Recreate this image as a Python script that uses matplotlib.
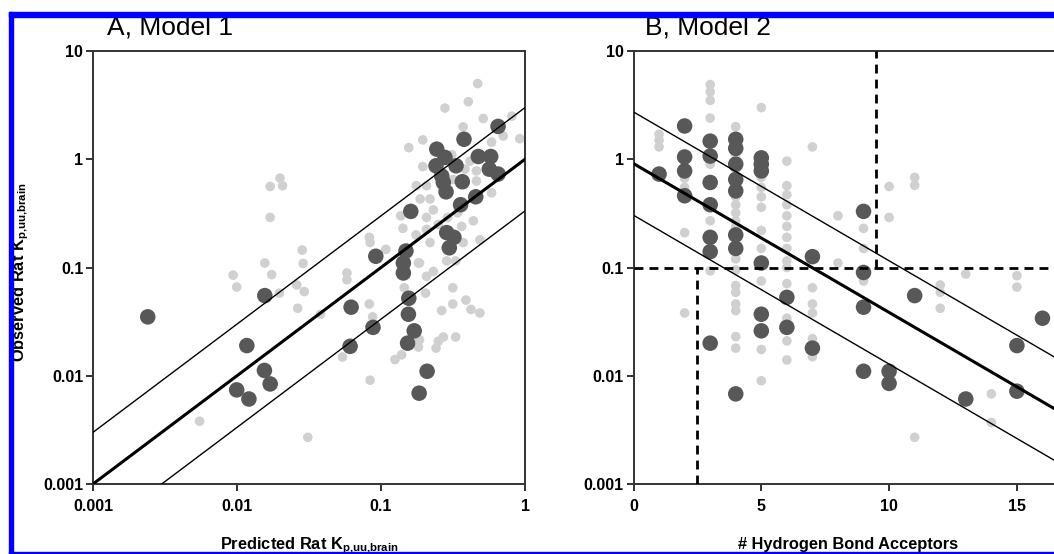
import numpy as np
import matplotlib
matplotlib.use("Agg")
import matplotlib.pyplot as plt
from matplotlib.patches import Rectangle

plt.rcParams['font.family'] = ['Liberation Sans', 'DejaVu Sans']
plt.rcParams['font.weight'] = 'bold'
plt.rcParams['mathtext.fontset'] = 'custom'
plt.rcParams['mathtext.rm'] = 'Liberation Sans:bold'
plt.rcParams['mathtext.it'] = 'Liberation Sans:bold'
plt.rcParams['mathtext.bf'] = 'Liberation Sans:bold'

# ---- Panel A: predicted vs observed Kp,uu,brain (Model 1) ----
pred_dark = [0.65, 0.377, 0.244, 0.278, 0.241, 0.332, 0.474, 0.578, 0.565, 0.65,
             0.264, 0.271, 0.283, 0.367, 0.455, 0.357, 0.161, 0.286, 0.321, 0.298,
             0.092, 0.149, 0.143, 0.143, 0.062, 0.156, 0.155, 0.088, 0.170, 0.153,
             0.061, 0.209, 0.184, 0.0024, 0.0156, 0.0117, 0.0155, 0.0170, 0.00995, 0.0121]
obs_dark = [2.01, 1.53, 1.24, 1.04, 0.87, 0.87, 1.06, 1.06, 0.81, 0.73,
            0.70, 0.61, 0.50, 0.62, 0.45, 0.38, 0.33, 0.21, 0.19, 0.152,
            0.127, 0.142, 0.11, 0.089, 0.043, 0.052, 0.037, 0.028, 0.026, 0.020,
            0.0187, 0.011, 0.0069, 0.035, 0.055, 0.019, 0.0112, 0.0084, 0.0074, 0.0061]

pred_light = [0.0199, 0.0170, 0.0207, 0.0170, 0.0284, 0.0288, 0.0156, 0.0174, 0.0094, 0.00995,
              0.026, 0.0293, 0.0197, 0.0264, 0.038, 0.0055, 0.031,
              0.058, 0.058, 0.083, 0.0875, 0.054, 0.125, 0.139, 0.084, 0.185,
              0.207, 0.231, 0.204, 0.315, 0.389, 0.315, 0.264, 0.422, 0.486, 0.33,
              0.271, 0.25, 0.241, 0.185, 0.182, 0.145, 0.286, 0.33,
              0.469, 0.404, 0.278, 0.513, 0.372, 0.706, 0.586, 0.195, 0.156, 0.195,
              0.415, 0.383, 0.46, 0.46, 0.318, 0.207, 0.219, 0.231, 0.207, 0.137,
              0.142, 0.175, 0.207, 0.25, 0.363, 0.438, 0.586, 0.486, 0.372, 0.084,
              0.108, 0.182, 0.219, 0.187, 0.81, 0.92, 0.29, 0.34, 0.176, 0.31, 0.083]
obs_light = [0.67, 0.56, 0.57, 0.29, 0.145, 0.109, 0.11, 0.086, 0.085, 0.066,
             0.069, 0.060, 0.058, 0.042, 0.037, 0.0038, 0.0027,
             0.089, 0.077, 0.046, 0.035, 0.0149, 0.0141, 0.0156, 0.0091, 0.11,
             0.083, 0.092, 0.058, 0.065, 0.050, 0.046, 0.040, 0.041, 0.038, 0.0228,
             0.0228, 0.0208, 0.018, 0.0215, 0.0184, 0.065, 0.115, 0.115,
             5.0, 3.4, 2.97, 2.38, 1.99, 1.64, 1.44, 1.51, 1.28, 0.855,
             0.96, 0.81, 0.78, 0.63, 0.65, 0.57, 0.43, 0.34, 0.29, 0.30,
             0.23, 0.20, 0.225, 0.25, 0.24, 0.27, 0.49, 0.18, 0.17, 0.17,
             0.147, 0.11, 0.17, 0.43, 2.5, 1.55, 0.29, 0.32, 0.57, 1.1, 0.19]

fold = 3.0  # lines at unity and 3-fold

# ---- Panel B: HBA vs observed Kp,uu,brain (Model 2) ----
hba_dark = [1, 2, 2, 2, 2, 3, 3, 3, 3, 3, 3, 3, 4, 4, 4, 4, 4, 4, 4, 4,
            5, 5, 5, 5, 5, 5, 6, 6, 7, 7, 9, 9, 9, 9, 10, 10, 11, 13, 15, 15, 16]
kpuu_dark = [0.73, 2.03, 1.05, 0.78, 0.46, 1.47, 1.07, 0.61, 0.38, 0.19, 0.14, 0.020,
             1.53, 1.26, 0.90, 0.65, 0.51, 0.20, 0.15, 0.0068,
             1.03, 0.90, 0.78, 0.11, 0.037, 0.026, 0.053, 0.028, 0.126, 0.018,
             0.33, 0.09, 0.043, 0.011, 0.011, 0.0085, 0.055, 0.0061, 0.019, 0.0072, 0.034]

hba_light = [1, 1, 1,
             2, 2, 2, 2, 2,
             3, 3, 3, 3, 3, 3, 3,
             4, 4, 4, 4, 4, 4, 4, 4, 4, 4, 4, 4, 4, 4, 4, 4, 4,
             5, 5, 5, 5, 5, 5, 5, 5, 5, 5, 5, 5,
             6, 6, 6, 6, 6, 6, 6, 6, 6, 6, 6, 6, 6, 6,
             7, 7, 7, 7, 7, 7,
             8, 8, 9, 9, 9, 10, 10, 11, 11, 11, 12, 12, 12, 13, 14, 14, 15, 15]
kpuu_light = [1.7, 1.5, 1.3,
              0.67, 0.55, 0.48, 0.21, 0.038,
              4.9, 4.2, 3.5, 2.4, 0.9, 0.27, 0.093,
              2.0, 1.1, 0.8, 0.55, 0.45, 0.38, 0.32, 0.27, 0.24, 0.12, 0.095,
              0.068, 0.059, 0.046, 0.040, 0.023, 0.018,
              3.0, 0.68, 0.55, 0.45, 0.36, 0.22, 0.15, 0.107, 0.075, 0.025, 0.0175, 0.009,
              0.96, 0.57, 0.47, 0.38, 0.30, 0.24, 0.19, 0.15, 0.115, 0.1, 0.071, 0.034, 0.021, 0.014,
              1.3, 0.065, 0.046, 0.038, 0.022, 0.015,
              0.30, 0.11, 0.23, 0.15, 0.075, 0.56, 0.29, 0.68, 0.575, 0.0027,
              0.069, 0.059, 0.042, 0.087, 0.0068, 0.0037, 0.084, 0.066]

fit_intercept = -0.04   # log10 Kp,uu at HBA = 0
fit_slope = -0.1375     # per HBA
hba_cut = 9.5
hba_cut_low = 2.5
kpuu_cut = 0.1

DARK = '#585858'
LIGHT = '#d0d0d0'
SPINE = '#333333'

W, H = 1054, 554
fig = plt.figure(figsize=(W / 100, H / 100), dpi=100)


def style_axes(ax):
    for s in ax.spines.values():
        s.set_color(SPINE)
        s.set_linewidth(1.4)
    ax.tick_params(which='major', direction='out', length=5, width=1.4,
                   color=SPINE, labelsize=11.5, pad=2)
    ax.tick_params(axis='x', pad=6)
    ax.tick_params(which='minor', length=0)
    for lab in ax.get_xticklabels() + ax.get_yticklabels():
        lab.set_fontweight('bold')


# Panel A
axA = fig.add_axes([93 / W, 1 - 484 / H, 432 / W, 433 / H])
axA.set_xscale('log')
axA.set_yscale('log')
axA.set_xlim(0.001, 1)
axA.set_ylim(0.001, 10)
axA.scatter(pred_light, obs_light, s=48, color=LIGHT, edgecolors='none', zorder=2)
axA.scatter(pred_dark, obs_dark, s=125, color=DARK, edgecolors='none', zorder=3)
xx = np.array([0.001, 1.0])
axA.plot(xx, xx, color='black', lw=2.2, zorder=4)
axA.plot(xx, xx * fold, color='black', lw=1.0, zorder=4)
axA.plot(xx, xx / fold, color='black', lw=1.0, zorder=4)
axA.set_xticks([0.001, 0.01, 0.1, 1])
axA.set_xticklabels(['0.001', '0.01', '0.1', '1'])
axA.set_yticks([0.001, 0.01, 0.1, 1, 10])
axA.set_yticklabels(['0.001', '0.01', '0.1', '1', '10'])
style_axes(axA)

# Panel B
axB = fig.add_axes([633.5 / W, 1 - 484 / H, 1 - 633.5 / W, 433 / H])
axB.set_yscale('log')
xmax = (W - 633.5) / 25.56
axB.set_xlim(0, xmax)
axB.set_ylim(0.001, 10)
axB.scatter(hba_light, kpuu_light, s=48, color=LIGHT, edgecolors='none', zorder=2)
axB.scatter(hba_dark, kpuu_dark, s=125, color=DARK, edgecolors='none', zorder=3)
hh = np.array([0, xmax])
line = 10 ** (fit_intercept + fit_slope * hh)
axB.plot(hh, line, color='black', lw=2.2, zorder=4)
axB.plot(hh, line * fold, color='black', lw=1.0, zorder=4)
axB.plot(hh, line / fold, color='black', lw=1.0, zorder=4)
dash = dict(color='black', lw=2.0, ls=(0, (3.2, 2.2)), zorder=5)
axB.plot([0, xmax], [kpuu_cut, kpuu_cut], **dash)
axB.plot([hba_cut, hba_cut], [kpuu_cut, 10], **dash)
axB.plot([hba_cut_low, hba_cut_low], [0.001, kpuu_cut], **dash)
axB.spines['right'].set_visible(False)
axB.set_xticks([0, 5, 10, 15])
axB.set_yticks([0.001, 0.01, 0.1, 1, 10])
axB.set_yticklabels(['0.001', '0.01', '0.1', '1', '10'])
style_axes(axB)

# titles and axis labels
sub = r'$_{\rm p{,}uu{,}brain}$'
fig.text(107 / W, 1 - 35 / H, 'A, Model 1', fontsize=19, fontweight='normal',
         ha='left', va='baseline')
fig.text(645 / W, 1 - 35 / H, 'B, Model 2', fontsize=19, fontweight='normal',
         ha='left', va='baseline')
fig.text(309 / W, 1 - 549 / H, 'Predicted Rat K' + sub, fontsize=11.8,
         fontweight='bold', ha='center', va='baseline')
fig.text(848 / W, 1 - 549 / H, '# Hydrogen Bond Acceptors', fontsize=11.8,
         fontweight='bold', ha='center', va='baseline')
fig.text(21 / W, 1 - 272 / H, 'Observed Rat K' + sub, fontsize=11.8,
         fontweight='bold', rotation=90, ha='center', va='center')

# blue frame of the source image
blue = '#0000ff'
fig.add_artist(Rectangle((9 / W, 0), 4 / W, 1 - 12 / H, transform=fig.transFigure,
                         color=blue, zorder=10))
fig.add_artist(Rectangle((9 / W, 1 - 17 / H), 1, 5 / H, transform=fig.transFigure,
                         color=blue, zorder=10))
fig.add_artist(Rectangle((9 / W, 0), 1, 2 / H, transform=fig.transFigure,
                         color=blue, zorder=10))

fig.savefig('out.png', dpi=100)
